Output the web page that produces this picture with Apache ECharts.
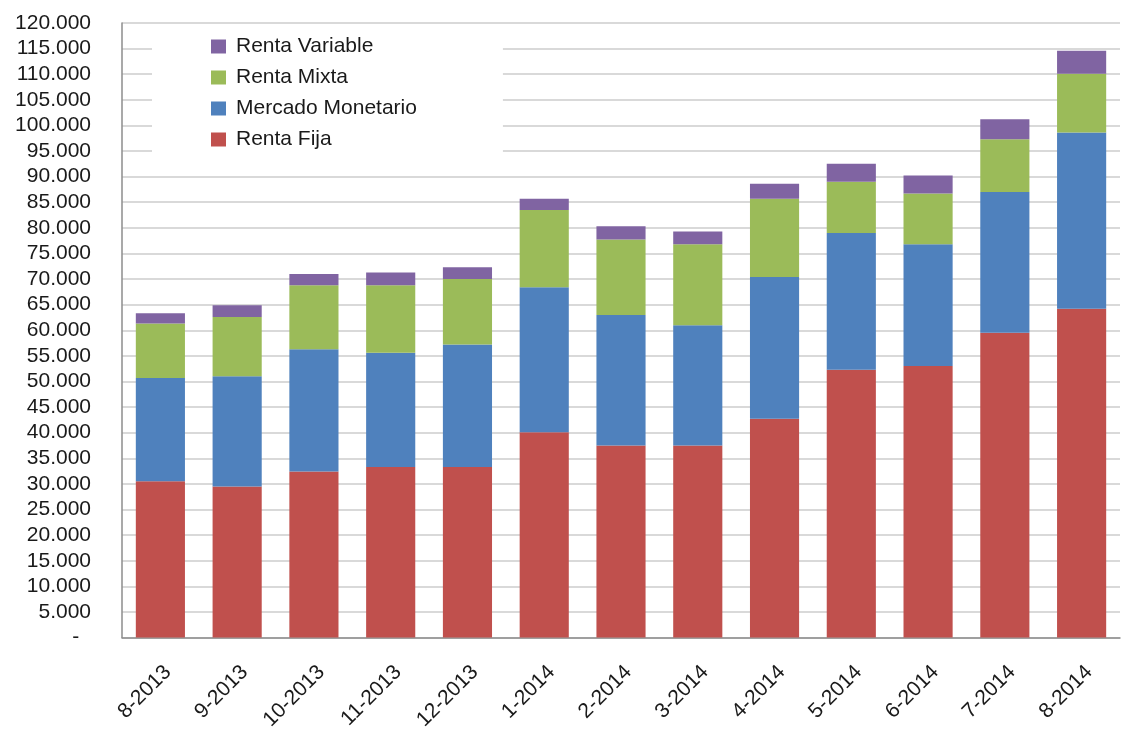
<!DOCTYPE html>
<html>
<head>
<meta charset="utf-8">
<script src="https://cdn.jsdelivr.net/npm/echarts@6/dist/echarts.min.js"></script>
<style>html,body{margin:0;padding:0;background:#fff;}#c{width:1122px;height:733px;}</style>
</head>
<body>
<div id="c"></div>
<script>
const categories = ['8-2013','9-2013','10-2013','11-2013','12-2013','1-2014','2-2014','3-2014','4-2014','5-2014','6-2014','7-2014','8-2014'];
const rentaFija = [30500, 29500, 32400, 33300, 33300, 40100, 37500, 37500, 42700, 52300, 53000, 59500, 64200];
const mercadoMonetario = [20200, 21500, 23900, 22300, 23900, 28300, 25500, 23500, 27700, 26700, 23800, 27500, 34400];
const rentaMixta = [10600, 11600, 12500, 13200, 12800, 15100, 14700, 15800, 15300, 10000, 9900, 10300, 11500];
const rentaVariable = [2000, 2300, 2200, 2500, 2300, 2200, 2600, 2500, 2900, 3500, 3500, 3900, 4500];
const legendOrder = ['Renta Variable','Renta Mixta','Mercado Monetario','Renta Fija'];

const FONT = 'Liberation Sans';
function fmt(v){
  if (v === 0) return '-  ';
  return String(v).replace(/\B(?=(\d{3})+(?!\d))/g, '.');
}
function bar(name, data, color){
  return {name, type:'bar', stack:'total', data, barCategoryGap:'36%',
    itemStyle:{color}, emphasis:{disabled:true}};
}
const chart = echarts.init(document.getElementById('c'), null, {renderer:'canvas'});
chart.setOption({
  animation:false,
  backgroundColor:'#fff',
  grid:{left:122, right:2, top:23, bottom:90, containLabel:false},
  legend:{
    data:legendOrder, orient:'vertical', left:152, top:32,
    backgroundColor:'#fff', padding:[4,86,10,59], itemGap:10,
    itemWidth:15, itemHeight:14, icon:'rect',
    textStyle:{fontFamily:FONT, fontSize:21, lineHeight:21, color:'#1a1a1a', padding:[0,0,0,5]}
  },
  xAxis:{
    type:'category', data:categories,
    axisLine:{lineStyle:{color:'#8c8c8c', width:1.5}},
    axisTick:{show:false},
    axisLabel:{rotate:45, interval:0, margin:24, align:'right', verticalAlign:'top',
      fontFamily:FONT, fontSize:21, color:'#1a1a1a'}
  },
  yAxis:{
    type:'value', min:0, max:120000, interval:5000,
    axisLine:{show:true, lineStyle:{color:'#8c8c8c', width:1.5}},
    axisTick:{show:false},
    splitLine:{lineStyle:{color:'#cccccc', width:1.5}},
    axisLabel:{formatter:fmt, margin:31, fontFamily:FONT, fontSize:21, color:'#1a1a1a'}
  },
  series:[
    bar('Renta Fija', rentaFija, '#C0504D'),
    bar('Mercado Monetario', mercadoMonetario, '#4F81BD'),
    bar('Renta Mixta', rentaMixta, '#9BBB59'),
    bar('Renta Variable', rentaVariable, '#8064A2')
  ]
});
</script>
</body>
</html>
